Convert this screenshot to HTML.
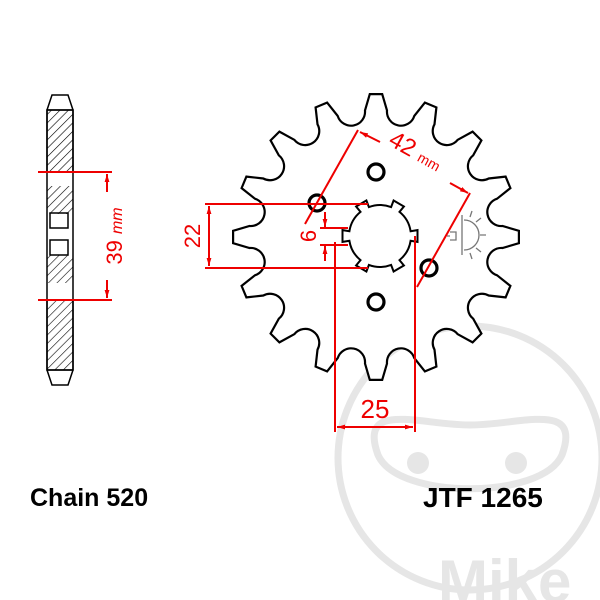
<!DOCTYPE html>
<html><head><meta charset="utf-8"><style>
html,body{margin:0;padding:0;background:#fff}
svg{display:block}
text{font-family:"Liberation Sans",sans-serif}
</style></head><body>
<svg id="s" width="600" height="600" viewBox="0 0 600 600" xmlns="http://www.w3.org/2000/svg">
<defs>
<pattern id="h" width="6" height="6" patternUnits="userSpaceOnUse" patternTransform="rotate(45)">
<line x1="0" y1="0" x2="0" y2="6" stroke="#000" stroke-width="1.2"/>
</pattern>
<marker id="a" viewBox="0 0 10 10" refX="10" refY="5" markerWidth="8" markerHeight="8" orient="auto-start-reverse" markerUnits="userSpaceOnUse"><path d="M0,2 L10,5 L0,8 z" fill="#e00"/></marker>
</defs>
<!-- watermark -->
<g fill="none" stroke="#e6e6e6" stroke-width="7">
<circle cx="470" cy="458" r="132"/>
<path d="M378,455 C358,400 420,425 470,425 C520,425 582,400 562,455 C542,500 398,500 378,455z"/>
</g>
<circle cx="418" cy="463" r="11" fill="#e6e6e6"/><circle cx="516" cy="463" r="11" fill="#e6e6e6"/>
<text x="438" y="602" font-size="60" font-weight="bold" fill="#e6e6e6">Mike</text>

<!-- side profile -->
<g stroke="#000" stroke-width="1.5">
<path d="M52,95 L68,95 L73,110 L73,370 L68,385 L52,385 L47,370 L47,110 z" fill="#fff"/>
<rect x="47" y="110" width="26" height="62" fill="url(#h)"/>
<rect x="47" y="186" width="26" height="28" fill="url(#h)" stroke="none"/>
<rect x="47" y="255" width="26" height="28" fill="url(#h)" stroke="none"/>
<rect x="47" y="300" width="26" height="70" fill="url(#h)"/>
<line x1="47" y1="110" x2="73" y2="110"/><line x1="47" y1="370" x2="73" y2="370"/>
<rect x="50" y="213" width="18" height="15" fill="none"/>
<rect x="50" y="240" width="18" height="15" fill="none"/>
</g>
<g stroke="#e00" stroke-width="2" fill="none">
<line x1="38" y1="172" x2="112" y2="172"/>
<line x1="38" y1="300" x2="112" y2="300"/>
<line x1="107" y1="174" x2="107" y2="192" marker-start="url(#a)"/>
<line x1="107" y1="280" x2="107" y2="298" marker-end="url(#a)"/>
</g>
<text transform="translate(122,236) rotate(-90)" text-anchor="middle" font-size="22" fill="#e00">39 <tspan font-style="italic" font-size="16">mm</tspan></text>

<!-- sprocket -->
<path id="sp" fill="#fff" stroke="#000" stroke-width="2.2"/>
<path id="bore" fill="#fff" stroke="#000" stroke-width="2"/>
<g fill="none" stroke="#000" stroke-width="3.2">
<circle cx="317" cy="203" r="8"/><circle cx="376" cy="172" r="8"/>
<circle cx="429" cy="268" r="8"/><circle cx="376" cy="302" r="8"/>
</g>

<!-- small icon -->
<g stroke="#777" stroke-width="1.3" fill="none">
<line x1="462" y1="215" x2="462" y2="255"/>
<path d="M464,220 A15,15 0 0 1 464,250"/>
<path d="M476,222 l5,-4 M480,235 l6,0 M476,248 l5,4 M470,217 l2,-6 M470,253 l2,6"/>
<path d="M450,232 l6,0 l0,8 l-6,0 M447,236 l3,0"/>
</g>

<!-- red dimensions -->
<g stroke="#e00" stroke-width="2" fill="none">
<line x1="205" y1="204" x2="368" y2="204"/>
<line x1="205" y1="268" x2="368" y2="268"/>
<line x1="209" y1="206" x2="209" y2="266" marker-start="url(#a)" marker-end="url(#a)"/>
<line x1="320" y1="228" x2="348" y2="228"/>
<line x1="320" y1="245" x2="348" y2="245"/>
<line x1="325" y1="212" x2="325" y2="227" marker-end="url(#a)"/>
<line x1="325" y1="261" x2="325" y2="246" marker-end="url(#a)"/>
<line x1="335" y1="242" x2="335" y2="432"/>
<line x1="415" y1="236" x2="415" y2="432"/>
<line x1="337" y1="427" x2="413" y2="427" marker-start="url(#a)" marker-end="url(#a)"/>
<line x1="305" y1="224" x2="358" y2="130"/>
<line x1="417" y1="287" x2="470" y2="193"/>
<line x1="380" y1="142" x2="360" y2="132" marker-end="url(#a)"/>
<line x1="450" y1="183" x2="468" y2="193" marker-end="url(#a)"/>
</g>
<text transform="translate(200,236) rotate(-90)" text-anchor="middle" font-size="22" fill="#e00">22</text>
<text transform="translate(316,236) rotate(-90)" text-anchor="middle" font-size="22" fill="#e00">6</text>
<text x="375" y="418" text-anchor="middle" font-size="26" fill="#e00">25</text>
<text transform="translate(412,158) rotate(29)" text-anchor="middle" font-size="24" fill="#e00">42 <tspan font-size="14">mm</tspan></text>

<text x="30" y="506" font-size="25" font-weight="bold" fill="#000">Chain 520</text>
<text x="423" y="507" font-size="28" font-weight="bold" fill="#000">JTF 1265</text>
</svg>
<script>
(function(){
var cx=376,cy=237,N=16,Rt=143,Rv=120,rr=14,d="";
function P(r,a){a=a*Math.PI/180;return [(cx+r*Math.cos(a)).toFixed(1),(cy+r*Math.sin(a)).toFixed(1)];}
for(var i=0;i<N;i++){
 var a=-90+i*360/N, v=a+180/N;
 var t1=P(Rt,a-2.5),t2=P(Rt,a+2.5);
 var w=6.3;
 var v1=P(Rv+7,v-w),v2=P(Rv+7,v+w);
 d+=(i==0?"M":"L")+t1.join(",")+" L"+t2.join(",")+" L"+v1.join(",")+" A"+rr+","+rr+" 0 0 0 "+v2.join(",")+" ";
}
document.getElementById("sp").setAttribute("d",d+"Z");
var bx=380,by=236,b="",ri=31,ro=38;
function P2(r,a){a=a*Math.PI/180;return [(bx+r*Math.cos(a)).toFixed(1),(by+r*Math.sin(a)).toFixed(1)];}
for(var j=0;j<6;j++){
 var c=j*60;
 var q=[P2(ri,c-9),P2(ro,c-9),P2(ro,c+9),P2(ri,c+9)];
 for(var k=0;k<q.length;k++){b+=(j==0&&k==0?"M":"L")+q[k].join(",")+" ";}
 var e=P2(ri,c+51);
 b+="A"+ri+","+ri+" 0 0 1 "+e.join(",")+" ";
}
document.getElementById("bore").setAttribute("d",b+"Z");
})();
</script>
</body></html>
